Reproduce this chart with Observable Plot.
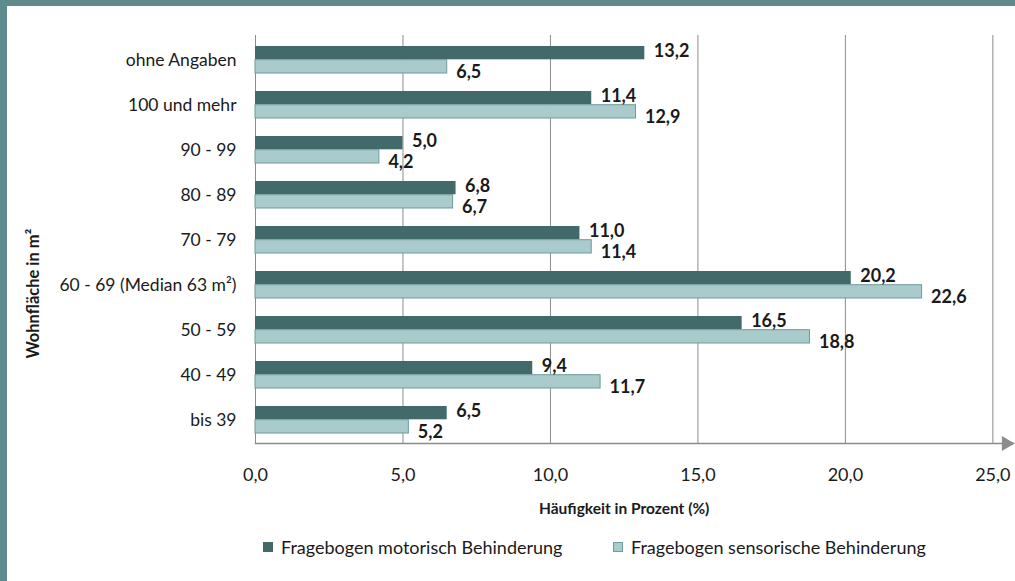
<!DOCTYPE html>
<html>
<head>
<meta charset="utf-8">
<script src="https://cdn.jsdelivr.net/npm/d3@7"></script>
<script src="https://cdn.jsdelivr.net/npm/@observablehq/plot@0.6"></script>
<style>
  html, body { margin: 0; padding: 0; }
  #wrap { position: relative; width: 1015px; height: 581px; background: #5f8b8e; overflow: hidden; }
  #inner { position: absolute; left: 7px; top: 6px; width: 1008px; height: 575px; background: #fff; font-family: Lato, sans-serif; color: #1a1a1a; }
  #chart { position: absolute; left: 0; top: 0; }
  .item { position: absolute; top: 530px; display: flex; align-items: center; font-size: 18px; white-space: nowrap; }
  .sw { width: 10px; height: 10px; margin-right: 8px; box-sizing: border-box; }
</style>
</head>
<body>
<div id="wrap"><div id="inner"><div id="chart"></div><div id="legend"></div></div></div>
<script>
const categories = ["ohne Angaben", "100 und mehr", "90 - 99", "80 - 89", "70 - 79", "60 - 69 (Median 63 m²)", "50 - 59", "40 - 49", "bis 39"];
const motorisch = [13.2, 11.4, 5.0, 6.8, 11.0, 20.2, 16.5, 9.4, 6.5];
const sensorisch = [6.5, 12.9, 4.2, 6.7, 11.4, 22.6, 18.8, 11.7, 5.2];
const seriesNames = ["Fragebogen motorisch Behinderung", "Fragebogen sensorische Behinderung"];
const xTicks = [0, 5, 10, 15, 20, 25];
const gridTicks = [5, 10, 15, 20, 25];
const xTitle = "Häufigkeit in Prozent (%)";
const yTitle = "Wohnfläche in m²";

const darkFill = "#436a6b", lightFill = "#a9cbcc", lightStroke = "#6f9b9d", gridColor = "#8c8c8c";

const motorData = categories.map((c, i) => ({cat: c, value: motorisch[i]}));
const sensorData = categories.map((c, i) => ({cat: c, value: sensorisch[i]}));
const fmt = v => v.toFixed(1).replace(".", ",");

const chart = Plot.plot({
  width: 1008,
  height: 525,
  marginLeft: 248,
  marginRight: 2,
  marginTop: 29,
  marginBottom: 88,
  style: {fontFamily: "Lato, sans-serif", fontSize: "17px", color: "#1a1a1a", background: "transparent"},
  x: {domain: [0, 25.7], axis: null},
  y: {domain: categories, padding: 0, axis: null},
  marks: [
    Plot.ruleX(gridTicks, {stroke: gridColor, strokeWidth: 1}),
    Plot.ruleX([0], {stroke: gridColor, strokeWidth: 1}),
    Plot.barX(motorData, {x: "value", y: "cat", fill: darkFill, insetTop: 9, insetBottom: 22.7}),
    Plot.barX(sensorData, {x: "value", y: "cat", fill: lightFill, stroke: lightStroke, strokeWidth: 1, insetTop: 22.7, insetBottom: 9}),
    Plot.text(motorData, {x: "value", y: "cat", text: d => fmt(d.value), dx: 9, dy: -9, textAnchor: "start", fontWeight: "bold", fontSize: 18}),
    Plot.text(sensorData, {x: "value", y: "cat", text: d => fmt(d.value), dx: 9, dy: 12, textAnchor: "start", fontWeight: "bold", fontSize: 18}),
    Plot.frame({anchor: "bottom", stroke: gridColor, strokeWidth: 1.5}),
    Plot.dot([25.45], {x: d => d, frameAnchor: "bottom", symbol: "triangle", rotate: 90, r: 5.5, fill: gridColor, stroke: "none"}),
    Plot.axisX(xTicks, {tickSize: 0, tickPadding: 25, tickFormat: fmt, fontSize: 18, label: null}),
    Plot.axisY({tickSize: 0, tickPadding: 19, fontSize: 17.5, label: null}),
    Plot.text([xTitle], {x: 12.5, frameAnchor: "bottom", dy: 70, fontWeight: "bold", fontSize: 15.5}),
    Plot.text([yTitle], {frameAnchor: "left", rotate: -90, dx: -222, dy: 119, fontWeight: "bold", fontSize: 16.5})
  ]
});
document.getElementById("chart").appendChild(chart);

const legend = document.getElementById("legend");
const legendLeft = [256, 606];
const legendFills = [darkFill, lightFill];
const legendStrokes = [darkFill, lightStroke];
seriesNames.forEach((name, i) => {
  const item = document.createElement("div");
  item.className = "item";
  item.style.left = legendLeft[i] + "px";
  const sw = document.createElement("span");
  sw.className = "sw";
  sw.style.background = legendFills[i];
  sw.style.border = "1px solid " + legendStrokes[i];
  const t = document.createElement("span");
  t.textContent = name;
  item.appendChild(sw);
  item.appendChild(t);
  legend.appendChild(item);
});
</script>
</body>
</html>
